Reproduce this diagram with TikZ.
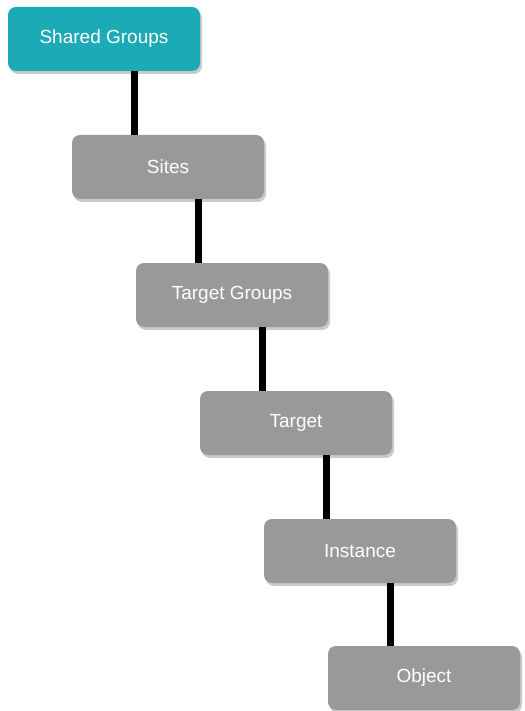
\documentclass[tikz,border=0pt]{standalone}
\usepackage{fontspec}
\setmainfont{Liberation Sans}
\usetikzlibrary{shadows}
\definecolor{teal1}{RGB}{28,170,182}
\definecolor{gray1}{RGB}{153,153,153}
\tikzset{
  box/.style={rounded corners=8pt, minimum width=192pt, minimum height=64pt,
    inner sep=0pt, text=white, font=\fontsize{19}{22}\selectfont,
    drop shadow={shadow xshift=2pt, shadow yshift=-3pt, opacity=0.35, fill=black!60}},
  graybox/.style={box, fill=gray1},
  tealbox/.style={box, fill=teal1},
  link/.style={line width=7pt, black}
}
\begin{document}
\begin{tikzpicture}[x=1pt,y=-1pt]
\useasboundingbox (0,0) rectangle (524,711);
\node[tealbox] (sg) at (104,39) {\raisebox{-2pt}{Shared Groups}};
\node[graybox] (si) at (168,167) {\raisebox{-2pt}{Sites}};
\node[graybox] (tg) at (232,295) {\raisebox{-2pt}{Target Groups}};
\node[graybox] (ta) at (296,423) {\raisebox{-2pt}{Target}};
\node[graybox] (in) at (360,551) {\raisebox{-2pt}{Instance}};
\node[graybox] (ob) at (424,678) {\raisebox{-2pt}{Object}};
\foreach \a/\b in {sg/si, si/tg, tg/ta, ta/in, in/ob}{
  \draw[link] ([xshift=63pt]\b.north west |- \a.south) -- ([xshift=63pt]\b.north west);
}
\end{tikzpicture}
\end{document}
